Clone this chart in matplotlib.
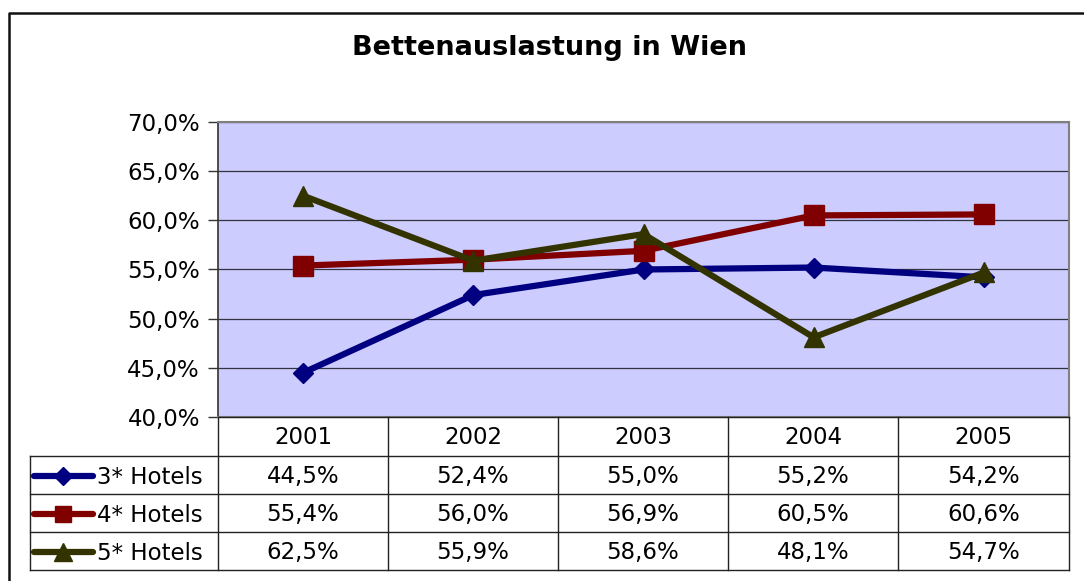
import matplotlib.pyplot as plt
from matplotlib.lines import Line2D

years = ["2001", "2002", "2003", "2004", "2005"]
series_names = ["3* Hotels", "4* Hotels", "5* Hotels"]
hotels_3 = [44.5, 52.4, 55.0, 55.2, 54.2]
hotels_4 = [55.4, 56.0, 56.9, 60.5, 60.6]
hotels_5 = [62.5, 55.9, 58.6, 48.1, 54.7]
y_ticks = [40, 45, 50, 55, 60, 65, 70]

colors = ["#000080", "#800000", "#333300"]
markers = ["D", "s", "^"]
msizes = [10.5, 14, 15]
fs = 16.5

W, H = 1084, 581
fig = plt.figure(figsize=(W / 100, H / 100), dpi=100)
fig.patch.set_facecolor("white")
plt.rcParams["font.family"] = ["DejaVu Sans"]

# plot area in pixel coords
px0, px1, py0, py1 = 218, 1069, 122, 417
ax = fig.add_axes([px0 / W, 1 - py1 / H, (px1 - px0) / W, (py1 - py0) / H])
ax.set_facecolor("#CCCCFF")

x = list(range(len(years)))
data = [hotels_3, hotels_4, hotels_5]
for vals, c, m, ms in zip(data, colors, markers, msizes):
    ax.plot(x, vals, color=c, lw=4.5, marker=m, markersize=ms, zorder=3,
            solid_capstyle="round")

ax.set_xlim(-0.5, len(years) - 0.5)
ax.set_ylim(y_ticks[0], y_ticks[-1])
ax.set_yticks(y_ticks)
ax.set_yticklabels([f"{v:.1f}%".replace(".", ",") for v in y_ticks], fontsize=fs)
ax.set_xticks([])
ax.yaxis.grid(True, color="#000000", lw=0.9, alpha=0.75)
ax.set_axisbelow(True)
ax.tick_params(axis="y", length=7, width=1, color="#333333", pad=6)
for s in ["top", "right", "bottom"]:
    ax.spines[s].set_color("#808080")
    ax.spines[s].set_linewidth(1.5)
ax.spines["left"].set_color("#333333")
ax.spines["left"].set_linewidth(1.2)

# overlay in pixel coords for title, table and frame
ov = fig.add_axes([0, 0, 1, 1], zorder=5)
ov.set_xlim(0, W)
ov.set_ylim(H, 0)
ov.axis("off")
ov.patch.set_alpha(0)

ov.text(549, 48, "Bettenauslastung in Wien", ha="center", va="center",
        fontsize=19.5, fontweight="bold")

# outer chart frame
ov.add_line(Line2D([9, 9, W], [H, 13, 13], color="#111111", lw=1.8))

# table
col_edges = [218, 388, 558, 728, 898, 1069]
row_edges = [417, 456, 494, 532, 570]
leg_x0 = 30
lc = "#222222"
lw = 1.0
for xe in col_edges:
    ov.add_line(Line2D([xe, xe], [row_edges[0], row_edges[-1]], color=lc, lw=lw))
ov.add_line(Line2D([leg_x0, leg_x0], [row_edges[1], row_edges[-1]], color=lc, lw=lw))
for i, ye in enumerate(row_edges):
    xs = col_edges[0] if i == 0 else leg_x0
    ov.add_line(Line2D([xs, col_edges[-1]], [ye, ye], color=lc, lw=lw))

for j, yr in enumerate(years):
    cx = (col_edges[j] + col_edges[j + 1]) / 2
    ov.text(cx, (row_edges[0] + row_edges[1]) / 2 + 1, yr, ha="center",
            va="center", fontsize=fs)

for i, (name, vals, c, m, ms) in enumerate(zip(series_names, data, colors, markers, msizes)):
    cy = (row_edges[i + 1] + row_edges[i + 2]) / 2 + 1
    ov.plot([34, 93], [cy, cy], color=c, lw=4.5, solid_capstyle="round")
    ov.plot([63], [cy], color=c, marker=m, markersize=ms * 0.85)
    ov.text(97, cy + 1, name, ha="left", va="center", fontsize=fs)
    for j, v in enumerate(vals):
        cx = (col_edges[j] + col_edges[j + 1]) / 2
        ov.text(cx, cy, f"{v:.1f}%".replace(".", ","), ha="center",
                va="center", fontsize=fs)

fig.savefig("out.png", dpi=100)
